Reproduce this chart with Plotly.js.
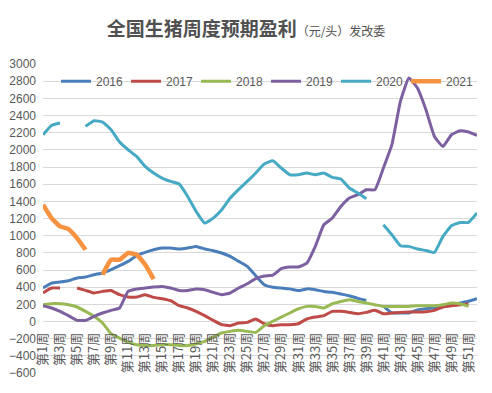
<!DOCTYPE html>
<html>
<head>
<meta charset="utf-8">
<script src="https://cdn.plot.ly/plotly-3.0.1.min.js"></script>
<style>html,body{margin:0;padding:0;background:#fff;}#chart{width:492px;height:393px;}</style>
</head>
<body>
<div id="chart"></div>
<script>
var weeks = ['第1周','第2周','第3周','第4周','第5周','第6周','第7周','第8周','第9周','第10周',
  '第11周','第12周','第13周','第14周','第15周','第16周','第17周','第18周','第19周','第20周',
  '第21周','第22周','第23周','第24周','第25周','第26周','第27周','第28周','第29周','第30周',
  '第31周','第32周','第33周','第34周','第35周','第36周','第37周','第38周','第39周','第40周',
  '第41周','第42周','第43周','第44周','第45周','第46周','第47周','第48周','第49周','第50周',
  '第51周','第52周'];
var seriesNames = ['2016','2017','2018','2019','2020','2021'];
var y2016 = [390,448,460,475,506,518,545,565,603,650,700,766,805,836,856,856,845,856,875,845,
  825,798,758,700,642,533,429,400,390,380,360,380,370,350,340,320,300,270,245,null,
  180,100,100,100,135,150,160,175,195,215,235,265];
var y2017 = [332,390,390,null,390,362,332,351,362,312,285,285,312,281,266,242,184,157,118,68,
  13,-37,-49,-18,-10,29,-26,-49,-37,-37,-26,29,52,68,118,118,106,91,106,130,
  91,99,106,110,110,114,130,169,184,196,203,null];
var y2018 = [196,207,207,196,169,118,60,-18,-142,-193,-243,-270,-280,-280,-270,-270,-280,-280,-259,-231,
  -181,-134,-115,-103,-115,-127,-49,1,52,99,146,176,176,157,207,234,254,234,215,196,
  176,176,176,176,184,184,184,196,215,207,176,null];
var y2019 = [184,157,118,68,13,13,60,99,130,157,351,378,390,401,409,390,362,362,378,370,
  339,312,332,390,440,500,530,540,615,635,635,680,875,1127,1205,1340,1438,1477,1535,1535,
  1788,2060,2564,2836,2720,2467,2156,2040,2176,2222,2207,2168];
var y2020 = [2175,2284,2312,null,null,2273,2339,2323,2234,2090,2001,1923,1807,1730,1671,1632,1601,1457,1282,1147,
  1205,1302,1438,1540,1632,1730,1834,1873,1788,1710,1710,1730,1710,1730,1679,1660,1555,1497,1430,null,
  1128,1011,883,875,845,828,805,991,1116,1154,1154,1264];
var y2021 = [1360,1205,1108,1077,972,836,null,545,720,720,798,778,662,495,null,null,null,null,null,null,
  null,null,null,null,null,null,null,null,null,null,null,null,null,null,null,null,null,null,null,null,
  null,null,null,null,null,null,null,null,null,null,null,null];
var allSeries = [y2016,y2017,y2018,y2019,y2020,y2021];
var colors = ['#4a7ebb','#be4b48','#98b954','#7d60a0','#46aac5','#f69240'];
var widths = [3,3,3,3,3,4.5];
var yMin = -600, yMax = 3000;
var xLabelLevel = -90;

var traces = allSeries.map(function(ys,i){
  return {x: weeks, y: ys, name: seriesNames[i], type:'scatter', mode:'lines',
    line:{color:colors[i], width:widths[i], shape:'spline', smoothing:0.4},
    connectgaps:false};
});

var txt = '#595959';
var layout = {
  width:492, height:393,
  margin:{l:43, r:15, t:64, b:20},
  paper_bgcolor:'#fff', plot_bgcolor:'#fff',
  title:{text:'<b>全国生猪周度预期盈利</b><span style="font-size:12px">（元/头）发改委</span>',
    x:0.5, xanchor:'center', y:0.925, yanchor:'middle',
    font:{family:'Noto Sans CJK SC', size:19, color:'#505050'}},
  showlegend:true,
  legend:{orientation:'h', x:0.03, xanchor:'left', y:(2800-yMin)/(yMax-yMin), yanchor:'middle',
    font:{family:'Liberation Sans Narrow, Liberation Sans, sans-serif', size:12, color:txt},
    bgcolor:'rgba(0,0,0,0)', entrywidth:25, entrywidthmode:'pixels', tracegroupgap:0},
  xaxis:{type:'category', tickmode:'linear', tick0:0, dtick:2, tickangle:-90,
    showgrid:false, showline:false, zeroline:false, ticks:'',
    anchor:'free', position:(xLabelLevel-yMin)/(yMax-yMin),
    tickfont:{family:'Noto Sans CJK SC', size:13, color:txt}, fixedrange:true},
  yaxis:{range:[yMin,yMax], dtick:200, tick0:0, showgrid:true, gridcolor:'#d9d9d9', gridwidth:1,
    zeroline:false, showline:false, ticks:'', ticklabelstandoff:6,
    tickfont:{family:'Liberation Sans Narrow, Liberation Sans, sans-serif', size:12, color:txt}}
};
Plotly.newPlot('chart', traces, layout, {displayModeBar:false, staticPlot:true});
</script>
</body>
</html>
